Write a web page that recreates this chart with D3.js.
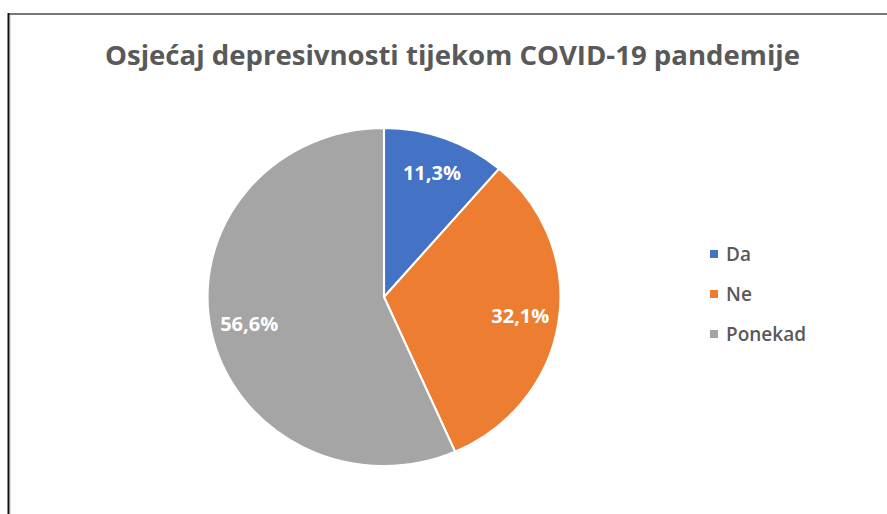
<!DOCTYPE html>
<html>
<head>
<meta charset="utf-8">
<script src="https://cdn.jsdelivr.net/npm/d3@7"></script>
<style>
  body { margin: 0; background: #fff; }
  text { font-family: "Open Sans", "Noto Sans", sans-serif; }
</style>
</head>
<body>
<svg width="887" height="514"></svg>
<script>
var categories = ["Da", "Ne", "Ponekad"];
var values = [11.3, 32.1, 56.6];
var labels = ["11,3%", "32,1%", "56,6%"];
var colors = ["#4472C4", "#ED7D31", "#A5A5A5"];
var title = "Osjećaj depresivnosti tijekom COVID-19 pandemije";

var svg = d3.select("svg"),
    width = +svg.attr("width"),
    height = +svg.attr("height");

// frame
svg.append("line").attr("x1", 8).attr("x2", width).attr("y1", 14).attr("y2", 14)
    .attr("stroke", "#777").attr("stroke-width", 2);
svg.append("line").attr("x1", 8.5).attr("x2", 8.5).attr("y1", 13).attr("y2", height)
    .attr("stroke", "#111").attr("stroke-width", 2);
svg.append("line").attr("x1", 10.5).attr("x2", 10.5).attr("y1", 15).attr("y2", height)
    .attr("stroke", "#ddd").attr("stroke-width", 1);

// title (narrow font squeezed to the original width)
svg.append("text")
    .attr("x", 105).attr("y", 65)
    .attr("textLength", 695)
    .attr("lengthAdjust", "spacingAndGlyphs")
    .attr("fill", "#595959")
    .style("font-size", "26px").style("font-weight", 700)
    .text(title);

var cx = 384, cy = 297, r = 169, sx = 1.044;

var color = d3.scaleOrdinal().domain(categories).range(colors);

var pie = d3.pie().sort(null).value(d => d.v);
var data = pie(categories.map((c, i) => ({ c: c, v: values[i], l: labels[i] })));

var arc = d3.arc().innerRadius(0).outerRadius(r);
var labelArc = d3.arc().innerRadius(132).outerRadius(132);

var g = svg.append("g").attr("transform", "translate(" + cx + "," + cy + ") scale(" + sx + ",1)");
g.selectAll("path")
    .data(data)
    .enter().append("path")
    .attr("d", arc)
    .attr("fill", d => color(d.data.c))
    .attr("stroke", "#fff")
    .attr("stroke-width", 2);

svg.append("g").selectAll("text")
    .data(data)
    .enter().append("text")
    .attr("x", d => cx + labelArc.centroid(d)[0] * sx)
    .attr("y", d => cy + labelArc.centroid(d)[1])
    .attr("dy", "0.35em")
    .attr("text-anchor", "middle")
    .attr("fill", "#fff")
    .style("font-size", "20px").style("font-weight", 700)
    .text(d => d.data.l);

// legend
var ly = d3.scalePoint().domain(categories).range([254, 334]);
var leg = svg.append("g").selectAll("g")
    .data(categories)
    .enter().append("g")
    .attr("transform", d => "translate(710," + ly(d) + ")");
leg.append("rect").attr("x", 0).attr("y", -4).attr("width", 8).attr("height", 8)
    .attr("fill", d => color(d));
leg.append("text").attr("x", 16).attr("dy", "0.35em")
    .attr("fill", "#595959")
    .style("font-size", "19px").style("font-weight", 600)
    .text(d => d);
</script>
</body>
</html>
